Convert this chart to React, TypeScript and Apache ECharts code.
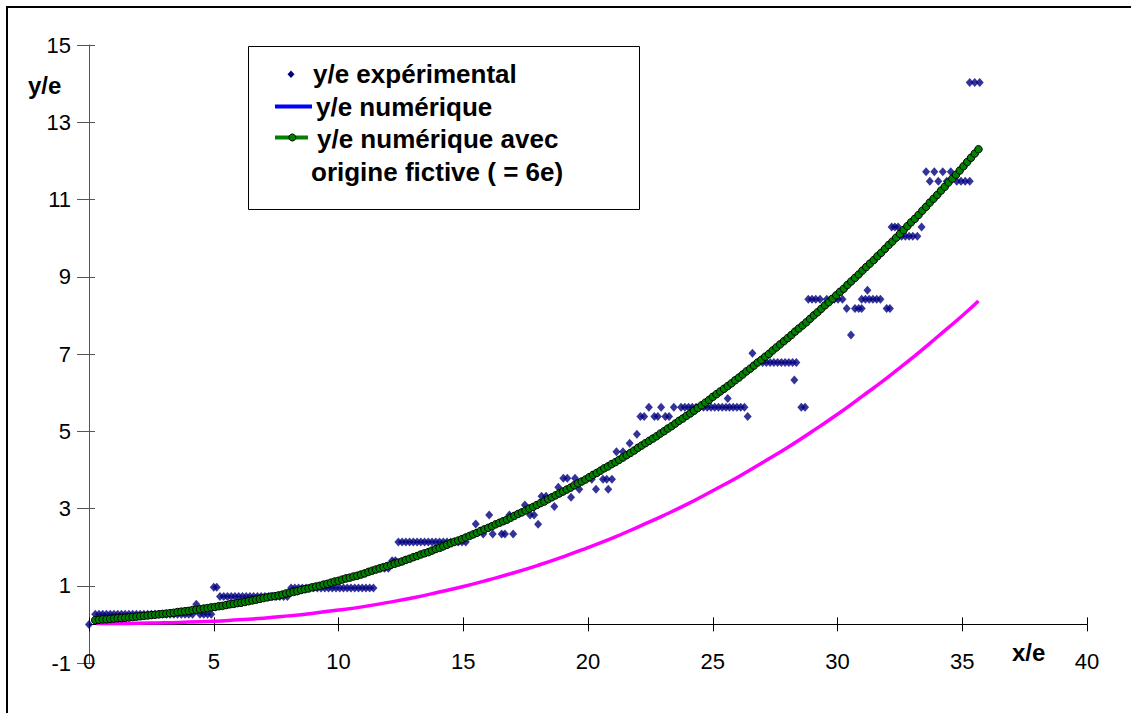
import React, { useEffect, useRef } from "react";
import * as echarts from "echarts";

// x/e grid shared by the "origine fictive" curve
const gridX = [
  0.25, 0.4, 0.55, 0.7, 0.85, 1, 1.15, 1.3, 1.45, 1.6,
  1.75, 1.9, 2.05, 2.2, 2.35, 2.5, 2.65, 2.8, 2.95, 3.1,
  3.25, 3.4, 3.55, 3.7, 3.85, 4, 4.15, 4.3, 4.45, 4.6,
  4.75, 4.9, 5.05, 5.2, 5.35, 5.5, 5.65, 5.8, 5.95, 6.1,
  6.25, 6.4, 6.55, 6.7, 6.85, 7, 7.15, 7.3, 7.45, 7.6,
  7.75, 7.9, 8.05, 8.2, 8.35, 8.5, 8.65, 8.8, 8.95, 9.1,
  9.25, 9.4, 9.55, 9.7, 9.85, 10, 10.15, 10.3, 10.45, 10.6,
  10.75, 10.9, 11.05, 11.2, 11.35, 11.5, 11.65, 11.8, 11.95, 12.1,
  12.25, 12.4, 12.55, 12.7, 12.85, 13, 13.15, 13.3, 13.45, 13.6,
  13.75, 13.9, 14.05, 14.2, 14.35, 14.5, 14.65, 14.8, 14.95, 15.1,
  15.25, 15.4, 15.55, 15.7, 15.85, 16, 16.15, 16.3, 16.45, 16.6,
  16.75, 16.9, 17.05, 17.2, 17.35, 17.5, 17.65, 17.8, 17.95, 18.1,
  18.25, 18.4, 18.55, 18.7, 18.85, 19, 19.15, 19.3, 19.45, 19.6,
  19.75, 19.9, 20.05, 20.2, 20.35, 20.5, 20.65, 20.8, 20.95, 21.1,
  21.25, 21.4, 21.55, 21.7, 21.85, 22, 22.15, 22.3, 22.45, 22.6,
  22.75, 22.9, 23.05, 23.2, 23.35, 23.5, 23.65, 23.8, 23.95, 24.1,
  24.25, 24.4, 24.55, 24.7, 24.85, 25, 25.15, 25.3, 25.45, 25.6,
  25.75, 25.9, 26.05, 26.2, 26.35, 26.5, 26.65, 26.8, 26.95, 27.1,
  27.25, 27.4, 27.55, 27.7, 27.85, 28, 28.15, 28.3, 28.45, 28.6,
  28.75, 28.9, 29.05, 29.2, 29.35, 29.5, 29.65, 29.8, 29.95, 30.1,
  30.25, 30.4, 30.55, 30.7, 30.85, 31, 31.15, 31.3, 31.45, 31.6,
  31.75, 31.9, 32.05, 32.2, 32.35, 32.5, 32.65, 32.8, 32.95, 33.1,
  33.25, 33.4, 33.55, 33.7, 33.85, 34, 34.15, 34.3, 34.45, 34.6,
  34.75, 34.9, 35.05, 35.2, 35.35, 35.5, 35.65,
];

// y/e numérique avec origine fictive (= 6e)
const greenY = [
  0.11, 0.12, 0.13, 0.13, 0.14, 0.15, 0.16, 0.16, 0.17, 0.18,
  0.19, 0.2, 0.21, 0.22, 0.23, 0.24, 0.25, 0.26, 0.27, 0.28,
  0.29, 0.3, 0.32, 0.33, 0.34, 0.35, 0.37, 0.38, 0.39, 0.41,
  0.42, 0.44, 0.45, 0.47, 0.48, 0.5, 0.52, 0.53, 0.55, 0.56,
  0.58, 0.6, 0.62, 0.64, 0.66, 0.68, 0.7, 0.72, 0.73, 0.75,
  0.77, 0.8, 0.82, 0.84, 0.86, 0.89, 0.91, 0.93, 0.96, 0.98,
  1, 1.03, 1.05, 1.08, 1.11, 1.13, 1.16, 1.19, 1.21, 1.24,
  1.26, 1.29, 1.32, 1.36, 1.39, 1.42, 1.45, 1.48, 1.51, 1.54,
  1.57, 1.6, 1.63, 1.67, 1.7, 1.74, 1.77, 1.81, 1.84, 1.87,
  1.91, 1.95, 1.98, 2.02, 2.06, 2.1, 2.14, 2.17, 2.21, 2.25,
  2.29, 2.33, 2.37, 2.42, 2.46, 2.5, 2.54, 2.59, 2.63, 2.67,
  2.71, 2.76, 2.81, 2.86, 2.9, 2.95, 3, 3.04, 3.09, 3.14,
  3.18, 3.24, 3.29, 3.34, 3.39, 3.44, 3.49, 3.54, 3.6, 3.65,
  3.7, 3.75, 3.81, 3.87, 3.92, 3.98, 4.04, 4.09, 4.15, 4.2,
  4.26, 4.32, 4.38, 4.44, 4.5, 4.57, 4.63, 4.69, 4.75, 4.81,
  4.87, 4.94, 5, 5.07, 5.13, 5.2, 5.27, 5.33, 5.4, 5.46,
  5.53, 5.6, 5.67, 5.74, 5.81, 5.89, 5.96, 6.03, 6.1, 6.17,
  6.24, 6.32, 6.39, 6.47, 6.55, 6.62, 6.7, 6.78, 6.85, 6.93,
  7, 7.09, 7.17, 7.25, 7.33, 7.41, 7.49, 7.58, 7.66, 7.74,
  7.82, 7.91, 8, 8.08, 8.17, 8.26, 8.34, 8.43, 8.52, 8.61,
  8.69, 8.79, 8.88, 8.97, 9.06, 9.16, 9.25, 9.34, 9.43, 9.53,
  9.62, 9.72, 9.82, 9.91, 10.01, 10.11, 10.21, 10.31, 10.41, 10.5,
  10.6, 10.71, 10.81, 10.92, 11.02, 11.12, 11.23, 11.33, 11.44, 11.54,
  11.64, 11.75, 11.86, 11.97, 12.08, 12.19, 12.3,
];

// y/e numérique
const magX = [
  0.3, 1, 2, 3, 4, 5, 6, 7, 8, 9, 10, 11, 12, 13, 14, 15, 16, 17, 18, 19,
  20, 21, 22, 23, 24, 25, 26, 27, 28, 29, 30, 31, 32, 33, 34, 35, 35.65,
];
const magY = [
  0.02, 0.02, 0.03, 0.04, 0.06, 0.08, 0.12, 0.16, 0.22, 0.29, 0.37, 0.46, 0.57, 0.69,
  0.83, 0.98, 1.15, 1.33, 1.53, 1.75, 1.99, 2.24, 2.52, 2.81, 3.12, 3.46, 3.81, 4.19,
  4.58, 5, 5.44, 5.91, 6.39, 6.9, 7.44, 7.99, 8.37,
];

// y/e expérimental : x/e values and their y/e values
const expX = [
  0,
  0.25, 0.4, 0.55, 0.7, 0.85, 1, 1.15, 1.3, 1.45, 1.6, 1.75, 1.9, 2.05, 2.2, 2.35, 2.5, 2.65, 2.8, 2.95, 3.1, 3.25, 3.4, 3.55, 3.7, 3.85, 4, 4.15,
  4.3,
  4.45, 4.6, 4.75, 4.9,
  5, 5.12,
  5.25, 5.4, 5.55, 5.7, 5.85, 6, 6.15, 6.3, 6.45, 6.6, 6.75, 6.9, 7.05, 7.2, 7.35, 7.5, 7.65, 7.8, 7.95,
  8.1, 8.25, 8.4, 8.55, 8.7, 8.85, 9, 9.15, 9.3, 9.45, 9.6, 9.75, 9.9, 10.05, 10.2, 10.35, 10.5, 10.65, 10.8, 10.95, 11.1, 11.25, 11.4,
  11.7, 11.85, 12, 12.15, 12.28,
  12.4, 12.55, 12.7, 12.85, 13, 13.15, 13.3, 13.45, 13.6, 13.75, 13.9, 14.05, 14.2, 14.35, 14.5, 14.65, 14.8, 14.95, 15.1,
  15.5, 15.8, 16.04, 16.18, 16.54, 16.67, 16.85, 17, 17.47, 17.68, 17.84, 18, 18.14, 18.32, 18.65, 18.81, 19.01, 19.17, 19.32, 19.48, 19.65, 20.15, 20.32, 20.6, 20.75, 20.81, 20.96,
  21.14, 21.4, 21.67, 21.96,
  22.1, 22.25, 22.66, 22.8, 23.1, 23.25,
  22.44, 22.93, 23.44, 23.73, 23.88, 24.03, 24.18, 24.33, 24.48, 24.63, 24.78, 24.93, 25.08, 25.23, 25.38, 25.53, 25.67, 25.82, 25.97, 26.12, 26.27,
  25.6, 26.4, 26.59,
  27, 27.15, 27.3, 27.45, 27.6, 27.75, 27.9, 28.05, 28.2, 28.35,
  28.27, 28.55, 28.7,
  28.83, 28.98, 29.13, 29.3, 29.57, 29.72, 29.87, 30.02, 30.2, 30.97, 31.12, 31.27, 31.42, 31.57, 31.72,
  30.37, 30.7, 30.85, 30.97, 31.97, 32.1,
  31.2, 30.54,
  32.17, 32.3, 32.43, 33.37,
  32.57, 32.72, 32.87, 33.02, 33.2,
  33.55, 33.88, 34.22, 34.54,
  33.7, 34.04, 34.38, 34.78, 34.95, 35.12, 35.3,
  35.3, 35.5, 35.7,
];
const expY = [
  0,
  0.26, 0.26, 0.26, 0.26, 0.26, 0.26, 0.26, 0.26, 0.26, 0.26, 0.26, 0.26, 0.26, 0.26, 0.26, 0.26, 0.26, 0.26, 0.26, 0.26, 0.26, 0.26, 0.26, 0.26, 0.26, 0.26, 0.26,
  0.52,
  0.26, 0.26, 0.26, 0.26,
  0.96, 0.96,
  0.72, 0.72, 0.72, 0.72, 0.72, 0.72, 0.72, 0.72, 0.72, 0.72, 0.72, 0.72, 0.72, 0.72, 0.72, 0.72, 0.72, 0.72, 0.72,
  0.94, 0.94, 0.94, 0.94, 0.94, 0.94, 0.94, 0.94, 0.94, 0.94, 0.94, 0.94, 0.94, 0.94, 0.94, 0.94, 0.94, 0.94, 0.94, 0.94, 0.94, 0.94, 0.94,
  1.45, 1.45, 1.45, 1.65, 1.65,
  2.13, 2.13, 2.13, 2.13, 2.13, 2.13, 2.13, 2.13, 2.13, 2.13, 2.13, 2.13, 2.13, 2.13, 2.13, 2.13, 2.13, 2.13, 2.13,
  2.6, 2.34, 2.83, 2.34, 2.34, 2.34, 2.83, 2.34, 3.09, 2.83, 2.83, 2.59, 3.32, 3.32, 3.05, 3.55, 3.78, 3.78, 3.29, 3.78, 3.5, 3.76, 3.5, 3.76, 3.76, 3.5, 3.76,
  4.47, 4.47, 4.69, 4.92,
  5.38, 5.38, 5.38, 5.38, 5.38, 5.38,
  5.62, 5.62, 5.62, 5.62, 5.62, 5.62, 5.62, 5.62, 5.62, 5.62, 5.62, 5.62, 5.62, 5.62, 5.62, 5.62, 5.62, 5.62, 5.62, 5.62, 5.62,
  5.85, 5.38, 7.02,
  6.78, 6.78, 6.78, 6.78, 6.78, 6.78, 6.78, 6.78, 6.78, 6.78,
  6.33, 5.62, 5.62,
  8.42, 8.42, 8.42, 8.42, 8.42, 8.42, 8.42, 8.42, 8.42, 8.42, 8.42, 8.42, 8.42, 8.42, 8.42,
  8.18, 8.18, 8.18, 8.18, 8.18, 8.18,
  8.65, 7.49,
  10.29, 10.29, 10.29, 10.29,
  10.05, 10.05, 10.05, 10.05, 10.05,
  11.72, 11.72, 11.72, 11.72,
  11.47, 11.47, 11.47, 11.47, 11.47, 11.47, 11.47,
  14.03, 14.03, 14.03,
];

const seriesNames = [
  "y/e expérimental",
  "y/e numérique",
  "y/e numérique avec origine fictive ( = 6e)",
];
const legendLines = [
  "y/e expérimental",
  "y/e numérique",
  "y/e numérique avec",
  "origine fictive ( = 6e)",
];

const FONT = "'Liberation Sans', Arial, Helvetica, sans-serif";

function zip(xs: number[], ys: number[]) {
  const out: number[][] = [];
  const n = Math.min(xs.length, ys.length);
  for (let i = 0; i < n; i++) out.push([xs[i], ys[i]]);
  return out;
}

export default function App() {
  const ref = useRef<HTMLDivElement>(null);

  useEffect(() => {
    if (!ref.current) return;
    const chart = echarts.init(ref.current, null, { renderer: "svg" });
    const legendFont = `bold 26px ${FONT}`;
    const titleFont = `bold 24px ${FONT}`;

    chart.setOption({
      animation: false,
      backgroundColor: "#ffffff",
      grid: { left: 89, right: 44, top: 45, bottom: 50, outerBoundsMode: "none" },
      xAxis: [
        {
          type: "value",
          position: "bottom",
          min: 0,
          max: 40,
          interval: 5,
          axisLine: { show: true, onZero: true, lineStyle: { color: "#000", width: 1 } },
          axisTick: { show: true, length: 7, lineStyle: { color: "#000" } },
          axisLabel: { margin: -13, fontSize: 22, fontFamily: FONT, color: "#000" },
          splitLine: { show: false },
        },
        {
          type: "value",
          position: "bottom",
          min: 0,
          max: 40,
          interval: 5,
          axisLine: { show: false, onZero: true },
          axisTick: { show: true, inside: true, length: 7, lineStyle: { color: "#000" } },
          axisLabel: { show: false },
          splitLine: { show: false },
        },
      ],
      yAxis: [
        {
          type: "value",
          position: "left",
          min: -1,
          max: 15,
          interval: 2,
          axisLine: { show: true, onZero: false, lineStyle: { color: "#555", width: 1 } },
          axisTick: { show: true, length: 12, lineStyle: { color: "#555" } },
          axisLabel: { margin: 18, fontSize: 22, fontFamily: FONT, color: "#000" },
          splitLine: { show: false },
        },
        {
          type: "value",
          position: "left",
          min: -1,
          max: 15,
          interval: 2,
          axisLine: { show: false, onZero: false },
          axisTick: { show: true, inside: true, length: 6, lineStyle: { color: "#555" } },
          axisLabel: { show: false },
          splitLine: { show: false },
        },
      ],
      series: [
        {
          name: seriesNames[0],
          type: "scatter",
          xAxisIndex: 0,
          yAxisIndex: 0,
          data: zip(expX, expY),
          symbol: "diamond",
          symbolSize: [8, 9],
          itemStyle: { color: "#000080" },
          z: 2,
        },
        {
          name: seriesNames[1],
          type: "line",
          xAxisIndex: 0,
          yAxisIndex: 0,
          data: zip(magX, magY),
          smooth: true,
          showSymbol: false,
          symbol: "none",
          lineStyle: { color: "#FF00FF", width: 3.5 },
          z: 3,
        },
        {
          name: seriesNames[2],
          type: "line",
          xAxisIndex: 0,
          yAxisIndex: 0,
          data: zip(gridX, greenY),
          symbol: "circle",
          symbolSize: 7.5,
          showSymbol: true,
          lineStyle: { color: "#008000", width: 2 },
          itemStyle: { color: "#008000", borderColor: "#000", borderWidth: 1 },
          z: 4,
        },
      ],
      graphic: [
        {
          type: "rect",
          silent: true,
          z: 0,
          shape: { x: 7, y: 7, width: 1400, height: 1000 },
          style: { fill: "none", stroke: "#000", lineWidth: 2 },
        },
        {
          type: "rect",
          z: 10,
          shape: { x: 248.5, y: 46.5, width: 391, height: 163 },
          style: { fill: "#fff", stroke: "#000", lineWidth: 1 },
        },
        {
          type: "polygon",
          z: 11,
          shape: { points: [[291, 70.5], [294.5, 74.3], [291, 78], [287.5, 74.3]] },
          style: { fill: "#000080" },
        },
        {
          type: "text",
          z: 11,
          x: 313,
          y: 74,
          style: { text: legendLines[0], font: legendFont, fill: "#000", verticalAlign: "middle" },
        },
        {
          type: "line",
          z: 11,
          shape: { x1: 275, y1: 106.5, x2: 312, y2: 106.5 },
          style: { stroke: "#0000FF", lineWidth: 4 },
        },
        {
          type: "text",
          z: 11,
          x: 316,
          y: 107,
          style: { text: legendLines[1], font: legendFont, fill: "#000", verticalAlign: "middle" },
        },
        {
          type: "line",
          z: 11,
          shape: { x1: 275, y1: 137.5, x2: 308, y2: 137.5 },
          style: { stroke: "#008000", lineWidth: 4 },
        },
        {
          type: "circle",
          z: 12,
          shape: { cx: 292.3, cy: 137.5, r: 3.5 },
          style: { fill: "#008000", stroke: "#000", lineWidth: 1 },
        },
        {
          type: "text",
          z: 11,
          x: 317,
          y: 139,
          style: { text: legendLines[2], font: legendFont, fill: "#000", verticalAlign: "middle" },
        },
        {
          type: "text",
          z: 11,
          x: 311,
          y: 171.5,
          style: { text: legendLines[3], font: legendFont, fill: "#000", verticalAlign: "middle" },
        },
        {
          type: "text",
          z: 11,
          x: 28,
          y: 85,
          style: { text: "y/e", font: titleFont, fill: "#000", verticalAlign: "middle" },
        },
        {
          type: "text",
          z: 11,
          x: 1012,
          y: 652,
          style: { text: "x/e", font: titleFont, fill: "#000", verticalAlign: "middle" },
        },
      ],
    });

    return () => chart.dispose();
  }, []);

  return (
    <div
      ref={ref}
      style={{ position: "absolute", left: 0, top: 0, width: 1131, height: 713, background: "#fff" }}
    />
  );
}
